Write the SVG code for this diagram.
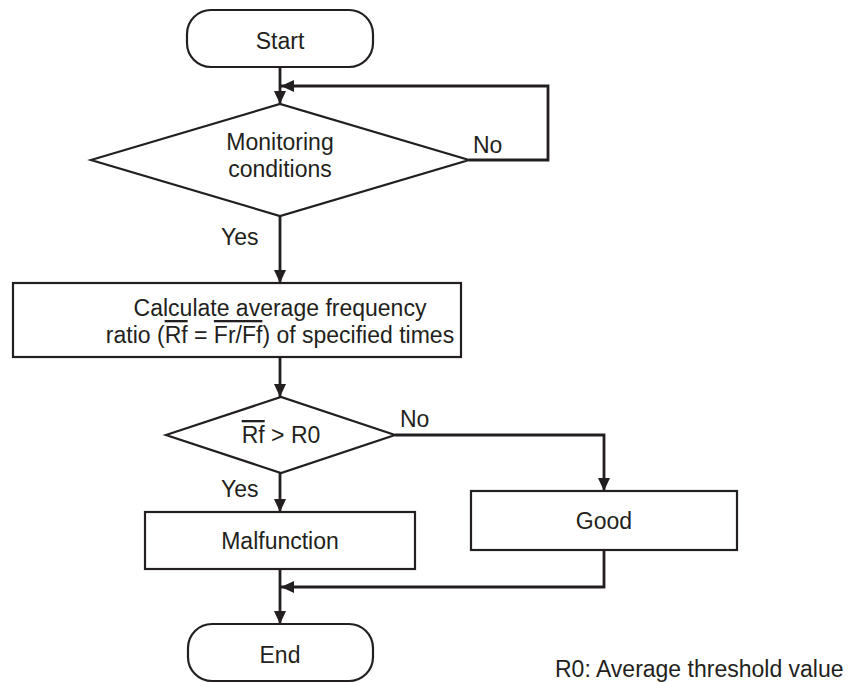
<svg xmlns="http://www.w3.org/2000/svg" width="858" height="683" viewBox="0 0 858 683">
<style>
.shape{fill:#fff;stroke:#231f20;stroke-width:2.2}
.conn{fill:none;stroke:#231f20;stroke-width:2.8}
text{font-family:"Liberation Sans",Arial,sans-serif;font-size:23px;fill:#231f20}
.c{text-anchor:middle}
.ov{text-decoration:overline}
</style>
<defs>
<marker id="ah" markerUnits="userSpaceOnUse" markerWidth="14" markerHeight="12" refX="13" refY="6" orient="auto">
<path d="M0,0 L13,6 L0,12 z" fill="#231f20"/>
</marker>
</defs>
<g id="connectors">
<path class="conn" d="M280,67 V104" marker-end="url(#ah)"/>
<path class="conn" d="M469,160 H548 V86 H281" marker-end="url(#ah)"/>
<path class="conn" d="M280,216 V283" marker-end="url(#ah)"/>
<path class="conn" d="M280,357 V397" marker-end="url(#ah)"/>
<path class="conn" d="M395,435 H604 V491" marker-end="url(#ah)"/>
<path class="conn" d="M280,473 V512" marker-end="url(#ah)"/>
<path class="conn" d="M280,569 V624" marker-end="url(#ah)"/>
<path class="conn" d="M604,550 V587 H281" marker-end="url(#ah)"/>
<text x="473" y="153">No</text>
<text x="221" y="245">Yes</text>
<text x="400" y="427">No</text>
<text x="221" y="497">Yes</text>
</g>
<g id="start">
<rect class="shape" x="187" y="10" width="186" height="57" rx="24" ry="24"/>
<text class="c" x="280" y="49">Start</text>
</g>
<g id="monitoring">
<polygon class="shape" points="91,160 280,104 469,160 280,216"/>
<text class="c" x="280" y="150">Monitoring</text>
<text class="c" x="280" y="177">conditions</text>
</g>
<g id="calculate">
<rect class="shape" x="13" y="283" width="448" height="74"/>
<text class="c" x="280" y="316">Calculate average frequency</text>
<text class="c" x="280" y="343">ratio (<tspan class="ov">Rf</tspan> = <tspan class="ov">Fr/Ff</tspan>) of specified times</text>
</g>
<g id="compare">
<polygon class="shape" points="166,435 281,397 395,435 281,473"/>
<text class="c" x="281" y="443"><tspan class="ov">Rf</tspan> &gt; R0</text>
</g>
<g id="malfunction">
<rect class="shape" x="145" y="512" width="270" height="57"/>
<text class="c" x="280" y="549">Malfunction</text>
</g>
<g id="good">
<rect class="shape" x="471" y="491" width="266" height="59"/>
<text class="c" x="604" y="529">Good</text>
</g>
<g id="end">
<rect class="shape" x="188" y="624" width="185" height="57" rx="24" ry="24"/>
<text class="c" x="280" y="663">End</text>
</g>
<text x="555" y="677">R0: Average threshold value</text>
</svg>
